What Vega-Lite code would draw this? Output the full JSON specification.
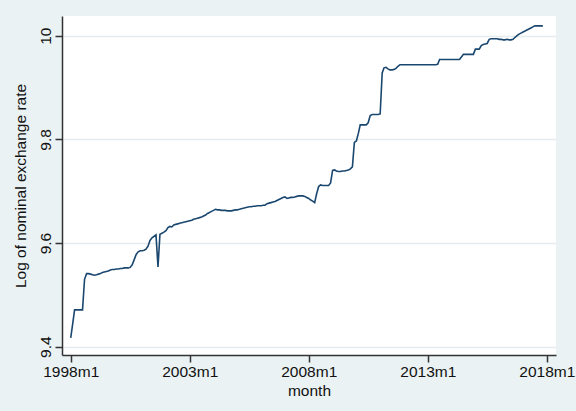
{
  "$schema": "https://vega.github.io/schema/vega-lite/v6.json",
  "width": 494,
  "height": 339,
  "autosize": {"type": "none"},
  "padding": {"left": 62, "top": 16, "right": 20, "bottom": 56},
  "background": "#EAF2F3",
  "view": {"fill": "white", "stroke": null},
  "config": {
    "font": "Liberation Sans",
    "axis": {"labelFont": "Liberation Sans", "titleFont": "Liberation Sans", "labelFontSize": 15.5, "titleFontSize": 15.5, "labelColor": "#111", "titleColor": "#111", "titleFontWeight": "normal", "domainColor": "#333", "domainWidth": 1.5, "tickColor": "#333", "tickWidth": 1.5, "tickSize": 7}
  },
  "data": {
    "format": {"parse": {"month": "date:'%Y-%m'"}},
    "values": [
      {"month":"1998-01","lnrate":9.417},{"month":"1998-02","lnrate":9.445},{"month":"1998-03","lnrate":9.471},{"month":"1998-04","lnrate":9.471},{"month":"1998-05","lnrate":9.471},{"month":"1998-06","lnrate":9.471},{"month":"1998-07","lnrate":9.471},{"month":"1998-08","lnrate":9.530},{"month":"1998-09","lnrate":9.541},{"month":"1998-10","lnrate":9.541},{"month":"1998-11","lnrate":9.540},{"month":"1998-12","lnrate":9.539},
      {"month":"1999-01","lnrate":9.538},{"month":"1999-02","lnrate":9.539},{"month":"1999-03","lnrate":9.540},{"month":"1999-04","lnrate":9.541},{"month":"1999-05","lnrate":9.543},{"month":"1999-06","lnrate":9.544},{"month":"1999-07","lnrate":9.545},{"month":"1999-08","lnrate":9.546},{"month":"1999-09","lnrate":9.548},{"month":"1999-10","lnrate":9.549},{"month":"1999-11","lnrate":9.549},{"month":"1999-12","lnrate":9.550},
      {"month":"2000-01","lnrate":9.550},{"month":"2000-02","lnrate":9.551},{"month":"2000-03","lnrate":9.551},{"month":"2000-04","lnrate":9.552},{"month":"2000-05","lnrate":9.552},{"month":"2000-06","lnrate":9.552},{"month":"2000-07","lnrate":9.553},{"month":"2000-08","lnrate":9.558},{"month":"2000-09","lnrate":9.568},{"month":"2000-10","lnrate":9.578},{"month":"2000-11","lnrate":9.583},{"month":"2000-12","lnrate":9.585},
      {"month":"2001-01","lnrate":9.585},{"month":"2001-02","lnrate":9.586},{"month":"2001-03","lnrate":9.588},{"month":"2001-04","lnrate":9.594},{"month":"2001-05","lnrate":9.605},{"month":"2001-06","lnrate":9.610},{"month":"2001-07","lnrate":9.613},{"month":"2001-08","lnrate":9.616},{"month":"2001-09","lnrate":9.554},{"month":"2001-10","lnrate":9.617},{"month":"2001-11","lnrate":9.619},{"month":"2001-12","lnrate":9.621},
      {"month":"2002-01","lnrate":9.624},{"month":"2002-02","lnrate":9.630},{"month":"2002-03","lnrate":9.632},{"month":"2002-04","lnrate":9.631},{"month":"2002-05","lnrate":9.635},{"month":"2002-06","lnrate":9.636},{"month":"2002-07","lnrate":9.637},{"month":"2002-08","lnrate":9.638},{"month":"2002-09","lnrate":9.639},{"month":"2002-10","lnrate":9.640},{"month":"2002-11","lnrate":9.641},{"month":"2002-12","lnrate":9.642},
      {"month":"2003-01","lnrate":9.643},{"month":"2003-02","lnrate":9.644},{"month":"2003-03","lnrate":9.646},{"month":"2003-04","lnrate":9.647},{"month":"2003-05","lnrate":9.648},{"month":"2003-06","lnrate":9.649},{"month":"2003-07","lnrate":9.650},{"month":"2003-08","lnrate":9.652},{"month":"2003-09","lnrate":9.654},{"month":"2003-10","lnrate":9.657},{"month":"2003-11","lnrate":9.659},{"month":"2003-12","lnrate":9.661},
      {"month":"2004-01","lnrate":9.663},{"month":"2004-02","lnrate":9.665},{"month":"2004-03","lnrate":9.664},{"month":"2004-04","lnrate":9.664},{"month":"2004-05","lnrate":9.663},{"month":"2004-06","lnrate":9.663},{"month":"2004-07","lnrate":9.663},{"month":"2004-08","lnrate":9.662},{"month":"2004-09","lnrate":9.662},{"month":"2004-10","lnrate":9.662},{"month":"2004-11","lnrate":9.663},{"month":"2004-12","lnrate":9.664},
      {"month":"2005-01","lnrate":9.664},{"month":"2005-02","lnrate":9.665},{"month":"2005-03","lnrate":9.666},{"month":"2005-04","lnrate":9.667},{"month":"2005-05","lnrate":9.668},{"month":"2005-06","lnrate":9.669},{"month":"2005-07","lnrate":9.670},{"month":"2005-08","lnrate":9.670},{"month":"2005-09","lnrate":9.671},{"month":"2005-10","lnrate":9.671},{"month":"2005-11","lnrate":9.672},{"month":"2005-12","lnrate":9.672},
      {"month":"2006-01","lnrate":9.672},{"month":"2006-02","lnrate":9.673},{"month":"2006-03","lnrate":9.673},{"month":"2006-04","lnrate":9.676},{"month":"2006-05","lnrate":9.677},{"month":"2006-06","lnrate":9.678},{"month":"2006-07","lnrate":9.679},{"month":"2006-08","lnrate":9.680},{"month":"2006-09","lnrate":9.682},{"month":"2006-10","lnrate":9.684},{"month":"2006-11","lnrate":9.686},{"month":"2006-12","lnrate":9.688},
      {"month":"2007-01","lnrate":9.689},{"month":"2007-02","lnrate":9.686},{"month":"2007-03","lnrate":9.687},{"month":"2007-04","lnrate":9.688},{"month":"2007-05","lnrate":9.688},{"month":"2007-06","lnrate":9.689},{"month":"2007-07","lnrate":9.690},{"month":"2007-08","lnrate":9.691},{"month":"2007-09","lnrate":9.691},{"month":"2007-10","lnrate":9.691},{"month":"2007-11","lnrate":9.690},{"month":"2007-12","lnrate":9.688},
      {"month":"2008-01","lnrate":9.686},{"month":"2008-02","lnrate":9.683},{"month":"2008-03","lnrate":9.681},{"month":"2008-04","lnrate":9.678},{"month":"2008-05","lnrate":9.695},{"month":"2008-06","lnrate":9.709},{"month":"2008-07","lnrate":9.712},{"month":"2008-08","lnrate":9.711},{"month":"2008-09","lnrate":9.711},{"month":"2008-10","lnrate":9.711},{"month":"2008-11","lnrate":9.711},{"month":"2008-12","lnrate":9.716},
      {"month":"2009-01","lnrate":9.740},{"month":"2009-02","lnrate":9.741},{"month":"2009-03","lnrate":9.739},{"month":"2009-04","lnrate":9.738},{"month":"2009-05","lnrate":9.738},{"month":"2009-06","lnrate":9.739},{"month":"2009-07","lnrate":9.739},{"month":"2009-08","lnrate":9.740},{"month":"2009-09","lnrate":9.741},{"month":"2009-10","lnrate":9.743},{"month":"2009-11","lnrate":9.747},{"month":"2009-12","lnrate":9.794},
      {"month":"2010-01","lnrate":9.797},{"month":"2010-02","lnrate":9.812},{"month":"2010-03","lnrate":9.828},{"month":"2010-04","lnrate":9.828},{"month":"2010-05","lnrate":9.828},{"month":"2010-06","lnrate":9.828},{"month":"2010-07","lnrate":9.832},{"month":"2010-08","lnrate":9.846},{"month":"2010-09","lnrate":9.848},{"month":"2010-10","lnrate":9.848},{"month":"2010-11","lnrate":9.848},{"month":"2010-12","lnrate":9.848},
      {"month":"2011-01","lnrate":9.849},{"month":"2011-02","lnrate":9.928},{"month":"2011-03","lnrate":9.938},{"month":"2011-04","lnrate":9.939},{"month":"2011-05","lnrate":9.936},{"month":"2011-06","lnrate":9.934},{"month":"2011-07","lnrate":9.934},{"month":"2011-08","lnrate":9.935},{"month":"2011-09","lnrate":9.937},{"month":"2011-10","lnrate":9.941},{"month":"2011-11","lnrate":9.944},{"month":"2011-12","lnrate":9.944},
      {"month":"2012-01","lnrate":9.944},{"month":"2012-02","lnrate":9.944},{"month":"2012-03","lnrate":9.944},{"month":"2012-04","lnrate":9.944},{"month":"2012-05","lnrate":9.944},{"month":"2012-06","lnrate":9.944},{"month":"2012-07","lnrate":9.944},{"month":"2012-08","lnrate":9.944},{"month":"2012-09","lnrate":9.944},{"month":"2012-10","lnrate":9.944},{"month":"2012-11","lnrate":9.944},{"month":"2012-12","lnrate":9.944},
      {"month":"2013-01","lnrate":9.944},{"month":"2013-02","lnrate":9.944},{"month":"2013-03","lnrate":9.944},{"month":"2013-04","lnrate":9.944},{"month":"2013-05","lnrate":9.944},{"month":"2013-06","lnrate":9.945},{"month":"2013-07","lnrate":9.954},{"month":"2013-08","lnrate":9.954},{"month":"2013-09","lnrate":9.954},{"month":"2013-10","lnrate":9.954},{"month":"2013-11","lnrate":9.954},{"month":"2013-12","lnrate":9.954},
      {"month":"2014-01","lnrate":9.954},{"month":"2014-02","lnrate":9.954},{"month":"2014-03","lnrate":9.954},{"month":"2014-04","lnrate":9.954},{"month":"2014-05","lnrate":9.954},{"month":"2014-06","lnrate":9.959},{"month":"2014-07","lnrate":9.964},{"month":"2014-08","lnrate":9.964},{"month":"2014-09","lnrate":9.964},{"month":"2014-10","lnrate":9.964},{"month":"2014-11","lnrate":9.964},{"month":"2014-12","lnrate":9.964},
      {"month":"2015-01","lnrate":9.974},{"month":"2015-02","lnrate":9.974},{"month":"2015-03","lnrate":9.974},{"month":"2015-04","lnrate":9.981},{"month":"2015-05","lnrate":9.983},{"month":"2015-06","lnrate":9.984},{"month":"2015-07","lnrate":9.985},{"month":"2015-08","lnrate":9.993},{"month":"2015-09","lnrate":9.994},{"month":"2015-10","lnrate":9.994},{"month":"2015-11","lnrate":9.994},{"month":"2015-12","lnrate":9.994},
      {"month":"2016-01","lnrate":9.993},{"month":"2016-02","lnrate":9.993},{"month":"2016-03","lnrate":9.992},{"month":"2016-04","lnrate":9.992},{"month":"2016-05","lnrate":9.993},{"month":"2016-06","lnrate":9.992},{"month":"2016-07","lnrate":9.992},{"month":"2016-08","lnrate":9.993},{"month":"2016-09","lnrate":9.997},{"month":"2016-10","lnrate":10.000},{"month":"2016-11","lnrate":10.003},{"month":"2016-12","lnrate":10.005},
      {"month":"2017-01","lnrate":10.007},{"month":"2017-02","lnrate":10.009},{"month":"2017-03","lnrate":10.011},{"month":"2017-04","lnrate":10.013},{"month":"2017-05","lnrate":10.015},{"month":"2017-06","lnrate":10.017},{"month":"2017-07","lnrate":10.019},{"month":"2017-08","lnrate":10.019},{"month":"2017-09","lnrate":10.019},{"month":"2017-10","lnrate":10.019},{"month":"2017-11","lnrate":10.019}
    ]
  },
  "mark": {"type": "line", "color": "#1A476F", "strokeWidth": 1.6, "interpolate": "linear"},
  "encoding": {
    "x": {
      "field": "month",
      "type": "temporal",
      "title": "month",
      "scale": {"domain": [{"year": 1997, "month": 8, "date": 20}, {"year": 2018, "month": 5, "date": 22}], "nice": false},
      "axis": {
        "values": [{"year": 1998, "month": 1, "date": 1}, {"year": 2003, "month": 1, "date": 1}, {"year": 2008, "month": 1, "date": 1}, {"year": 2013, "month": 1, "date": 1}, {"year": 2018, "month": 1, "date": 1}],
        "labelExpr": "timeFormat(datum.value, '%Y') + 'm' + (month(datum.value) + 1)",
        "labelFlush": false,
        "labelOverlap": false,
        "labelPadding": 2,
        "titlePadding": 4,
        "grid": false
      }
    },
    "y": {
      "field": "lnrate",
      "type": "quantitative",
      "title": "Log of nominal exchange rate",
      "scale": {"domain": [9.384, 10.038], "nice": false, "zero": false},
      "axis": {
        "values": [9.4, 9.6, 9.8, 10],
        "labelExpr": "datum.value >= 9.99 ? '10' : format(datum.value, '.1f')",
        "labelAngle": -90,
        "labelAlign": "center",
        "labelBaseline": "bottom",
        "labelPadding": 2,
        "titlePadding": 10,
        "grid": true,
        "gridColor": "#E4ECEE",
        "gridWidth": 1.5
      }
    }
  }
}
